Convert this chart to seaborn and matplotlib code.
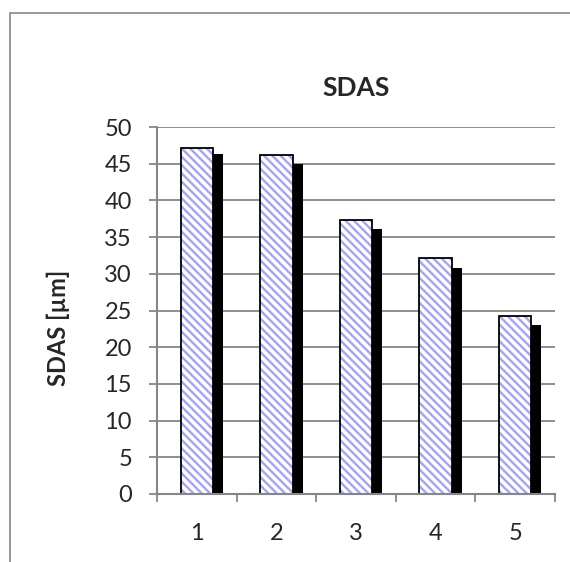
import matplotlib
matplotlib.use("Agg")
import matplotlib.pyplot as plt
import seaborn as sns
import pandas as pd
from matplotlib.patches import Rectangle

# values
samples = [1, 2, 3, 4, 5]
sdas_front = [47.1, 46.2, 37.3, 32.1, 24.2]
sdas_back = [46.3, 45.0, 36.1, 30.8, 23.0]
y_ticks = [0, 5, 10, 15, 20, 25, 30, 35, 40, 45, 50]
x_labels = ["1", "2", "3", "4", "5"]

sns.set_theme(style="white")
plt.rcParams['font.family'] = ['Lato', 'DejaVu Sans']
plt.rcParams['hatch.linewidth'] = 1.7

GRAY = "#868686"
BAR_W = 0.407
SHIFT = 0.125

df = pd.DataFrame({"sample": samples, "front": sdas_front, "back": sdas_back})
df["back_pos"] = df["sample"] + SHIFT

fig = plt.figure(figsize=(5.7, 5.62), dpi=100)
ax = fig.add_axes([157 / 570, 1 - 494 / 562, (555 - 157) / 570, (494 - 127) / 562])

# black series behind
sns.barplot(data=df, x="back_pos", y="back", native_scale=True, width=BAR_W,
            color="black", saturation=1, errorbar=None, linewidth=0, ax=ax)
# hatched series: stripes, then a black outline
sns.barplot(data=df, x="sample", y="front", native_scale=True, width=BAR_W,
            color="white", saturation=1, errorbar=None, linewidth=0,
            edgecolor="#a3a3ff", hatch="\\\\\\\\", ax=ax)
sns.barplot(data=df, x="sample", y="front", native_scale=True, width=BAR_W,
            color="black", fill=False, errorbar=None, linewidth=1.3, ax=ax)

ax.set_xlim(0.5, 5.5)
ax.set_ylim(0, 50)
ax.set_yticks(y_ticks)
ax.set_xticks(samples)
ax.set_xticklabels(x_labels)
ax.set_xticks([0.5, 1.5, 2.5, 3.5, 4.5, 5.5], minor=True)

ax.yaxis.grid(True, color=GRAY, linewidth=1.3)
ax.set_axisbelow(True)
for side in ["top", "right"]:
    ax.spines[side].set_visible(False)
for side in ["left", "bottom"]:
    ax.spines[side].set_color(GRAY)
    ax.spines[side].set_linewidth(1.5)

ax.tick_params(axis="y", direction="out", length=6, width=1.3, color=GRAY,
               pad=12, labelsize=17, left=True)
ax.tick_params(axis="x", which="major", length=0, pad=21, labelsize=17)
ax.tick_params(axis="x", which="minor", direction="out", length=6, width=1.3,
               color=GRAY, bottom=True)

ax.set_xlabel("")
ax.set_ylabel("SDAS [µm]", fontsize=17, fontweight="bold")
ax.yaxis.set_label_coords(-0.2175, 0.452)
ax.set_title("SDAS", fontsize=19, fontweight="bold", pad=22)

# chart-area border (only top and left are inside the picture)
fig.patches.append(Rectangle((10 / 570, -0.1), 1.2, 1 - 13 / 562 + 0.1,
                             transform=fig.transFigure, fill=False,
                             edgecolor="#878787", linewidth=1.2))

fig.savefig("out.png", dpi=100)
